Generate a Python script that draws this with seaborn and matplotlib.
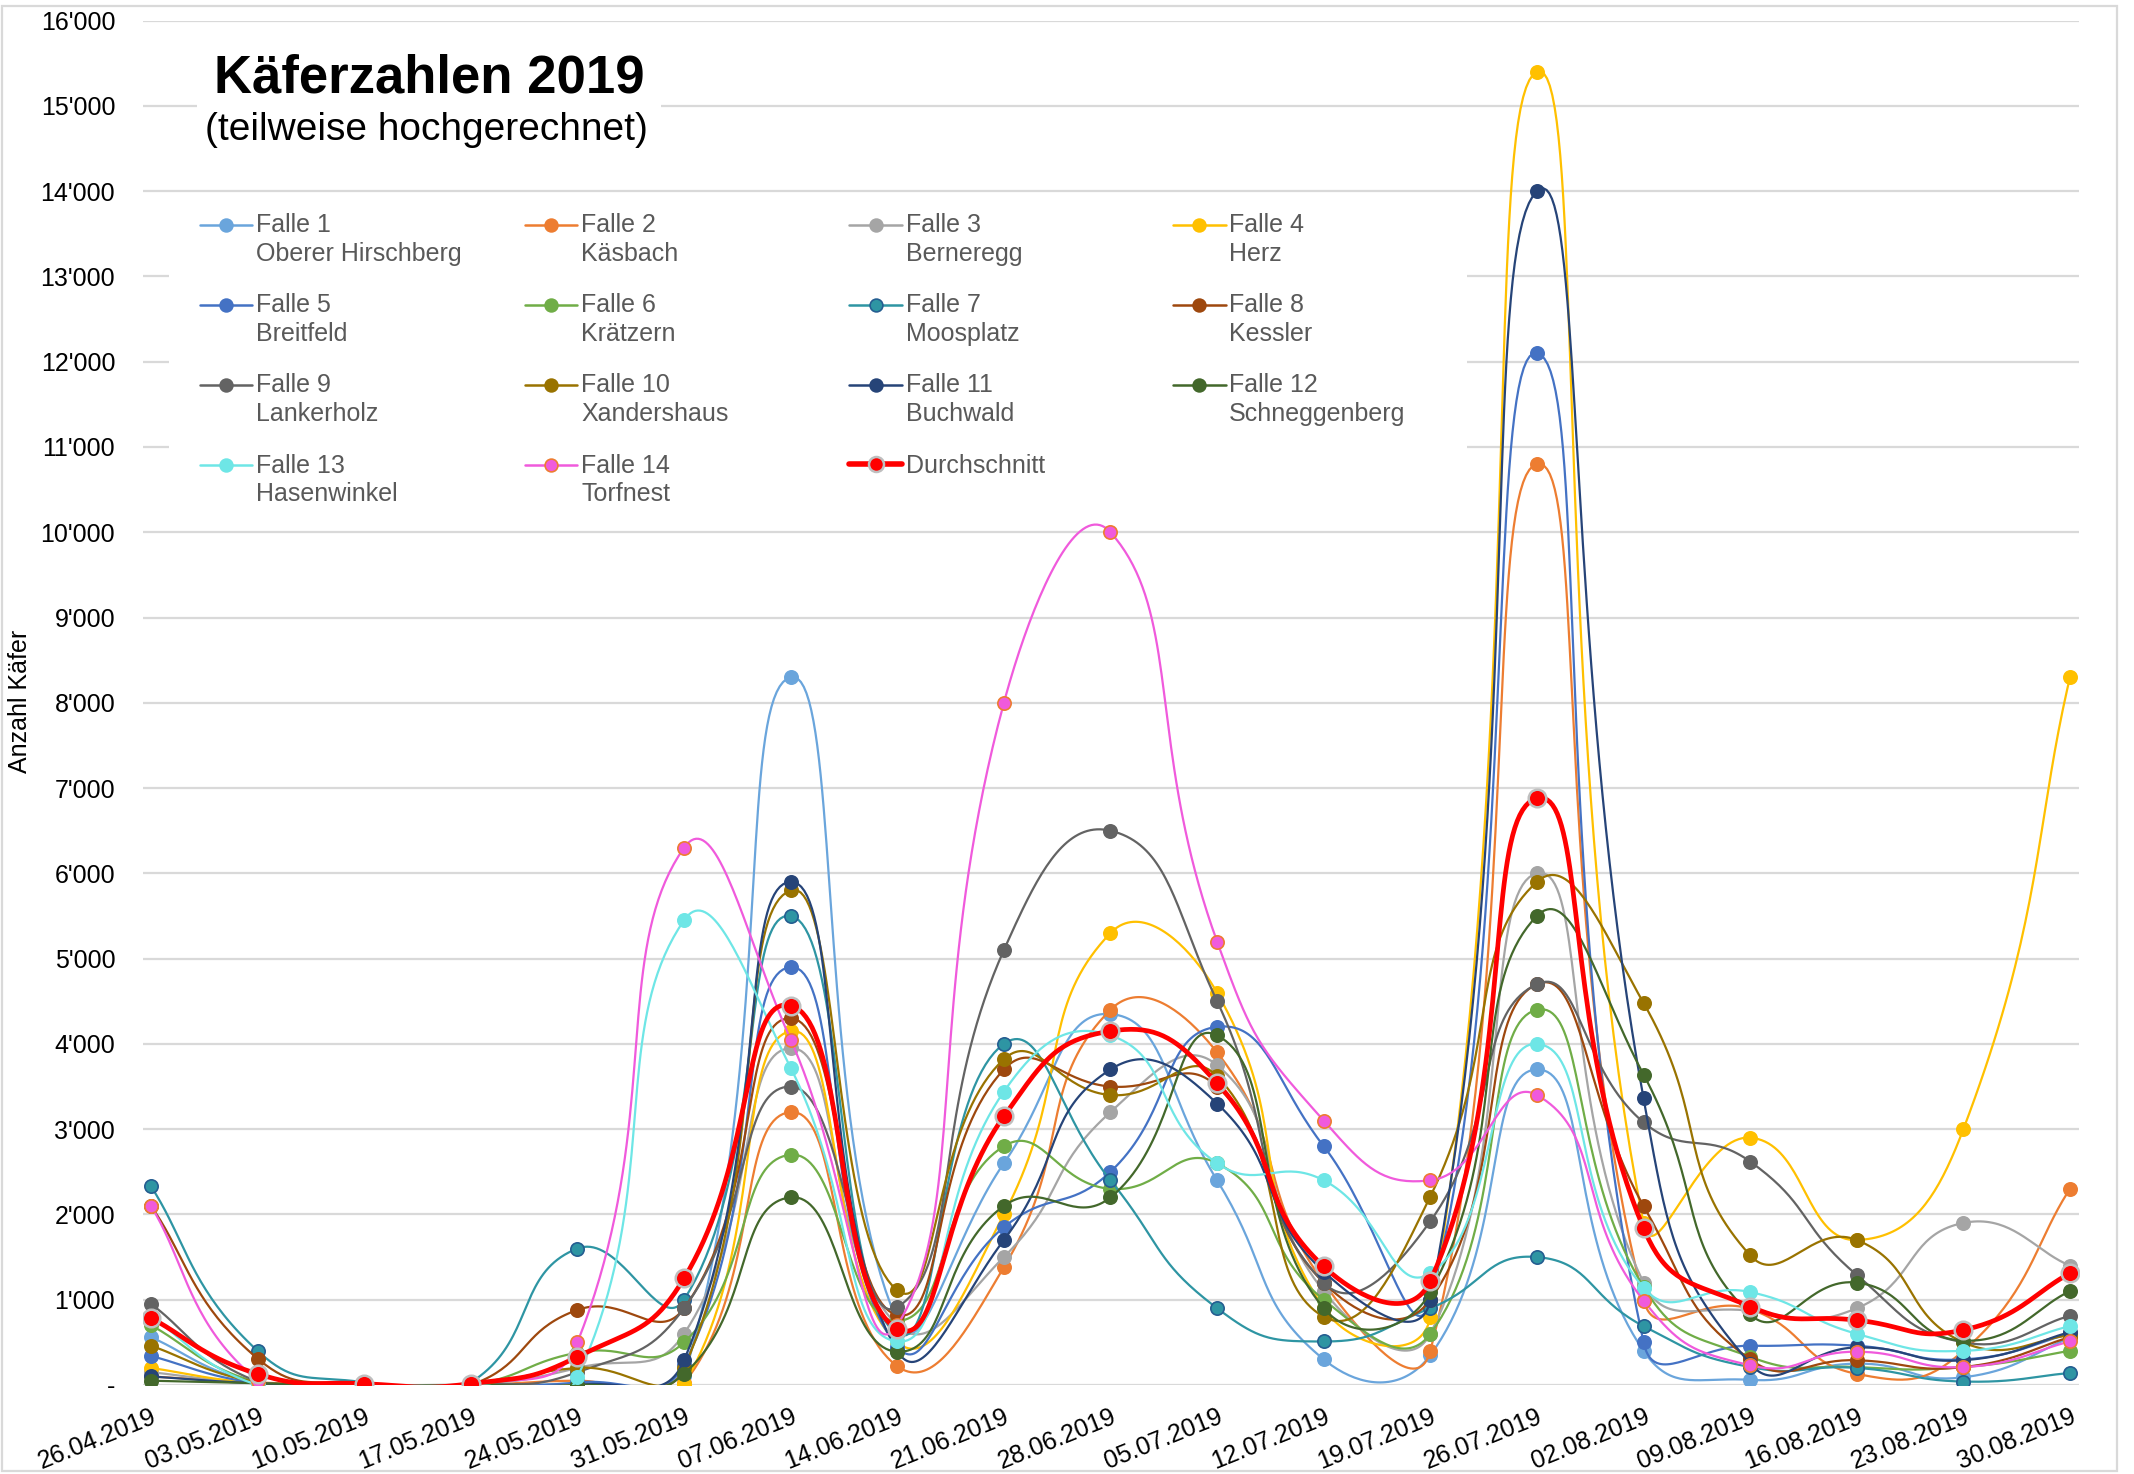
import numpy as np
import matplotlib
matplotlib.use("Agg")
import matplotlib.pyplot as plt
import seaborn as sns
from matplotlib.lines import Line2D
from matplotlib.patches import Rectangle
from matplotlib.ticker import FuncFormatter, MultipleLocator
from matplotlib.legend_handler import HandlerLine2D

# --- data ---
dates = ["26.04.2019", "03.05.2019", "10.05.2019", "17.05.2019", "24.05.2019",
         "31.05.2019", "07.06.2019", "14.06.2019", "21.06.2019", "28.06.2019",
         "05.07.2019", "12.07.2019", "19.07.2019", "26.07.2019", "02.08.2019",
         "09.08.2019", "16.08.2019", "23.08.2019", "30.08.2019"]

falle_1 = [560, 20, 0, 0, 20, 100, 8300, 750, 2600, 4350, 2400, 300, 350, 3700, 400, 60, 250, 90, 550]
falle_2 = [100, 30, 0, 0, 50, 20, 3200, 220, 1380, 4400, 3900, 1200, 400, 10800, 1000, 890, 130, 400, 2300]
falle_3 = [150, 20, 0, 0, 200, 600, 3950, 700, 1500, 3200, 3750, 1100, 600, 6000, 1200, 870, 900, 1900, 1400]
falle_4 = [200, 20, 0, 0, 0, 10, 4150, 500, 2000, 5300, 4600, 900, 800, 15400, 1900, 2900, 1700, 3000, 8300]
falle_5 = [340, 20, 0, 0, 30, 240, 4900, 450, 1850, 2500, 4200, 2800, 1000, 12100, 500, 460, 460, 300, 600]
falle_6 = [700, 30, 0, 0, 380, 500, 2700, 750, 2800, 2300, 2600, 1000, 600, 4400, 1150, 330, 210, 210, 400]
falle_7 = [2330, 400, 30, 30, 1600, 1000, 5500, 600, 4000, 2400, 900, 510, 900, 1500, 690, 210, 200, 40, 140]
falle_8 = [2100, 310, 0, 0, 880, 900, 4300, 820, 3700, 3500, 3500, 1200, 1000, 4700, 2100, 300, 290, 210, 560]
falle_9 = [950, 40, 0, 0, 150, 900, 3500, 910, 5100, 6500, 4500, 1200, 1920, 4700, 3080, 2620, 1290, 500, 810]
falle_10 = [460, 30, 0, 0, 200, 200, 5800, 1110, 3820, 3400, 3620, 800, 2210, 5900, 4480, 1520, 1700, 500, 580]
falle_11 = [100, 20, 0, 0, 0, 290, 5900, 400, 1700, 3700, 3300, 1330, 1000, 14000, 3360, 250, 440, 290, 620]
falle_12 = [50, 20, 0, 0, 0, 130, 2200, 390, 2100, 2200, 4100, 900, 1090, 5500, 3640, 830, 1200, 520, 1100]
falle_13 = [800, 0, 0, 0, 90, 5450, 3720, 510, 3440, 4100, 2600, 2400, 1310, 4000, 1140, 1090, 600, 400, 690]
falle_14 = [2100, 50, 0, 0, 500, 6300, 4050, 700, 8000, 10000, 5200, 3100, 2400, 3400, 990, 230, 390, 210, 510]
durchschnitt = [785, 130, 15, 15, 330, 1250, 4450, 660, 3150, 4150, 3540, 1390, 1220, 6880, 1840, 920, 760, 645, 1310]

names = ["Falle 1\nOberer Hirschberg", "Falle 2\nKäsbach", "Falle 3\nBerneregg", "Falle 4\nHerz",
         "Falle 5\nBreitfeld", "Falle 6\nKrätzern", "Falle 7\nMoosplatz", "Falle 8\nKessler",
         "Falle 9\nLankerholz", "Falle 10\nXandershaus", "Falle 11\nBuchwald", "Falle 12\nSchneggenberg",
         "Falle 13\nHasenwinkel", "Falle 14\nTorfnest"]
series = [falle_1, falle_2, falle_3, falle_4, falle_5, falle_6, falle_7,
          falle_8, falle_9, falle_10, falle_11, falle_12, falle_13, falle_14]
colors = ["#6AA5DC", "#ED7D31", "#A5A5A5", "#FFC000", "#4472C4", "#70AD47", "#2E95A3",
          "#9E480E", "#636363", "#997300", "#264478", "#43682B", "#6EE6E6", "#F05ADC"]
edges = list(colors)
edges[6] = "#255E91"
edges[13] = "#ED7D31"

# pixel size of one category step and of one count on the y axis (for the smoothing)
XPX, YPX = 106.6, 0.0853


def smooth(values, k=0.5, steps=40):
    # excel-like smoothed line: bezier segments, control arms scaled by segment length
    px = np.arange(len(values)) * XPX
    py = np.asarray(values, float) * YPX
    P = np.column_stack([px, py])
    n = len(P)
    d = np.hypot(*np.diff(P, axis=0).T)
    T = np.zeros_like(P)
    T[1:-1] = P[2:] - P[:-2]
    T[0] = P[1] - P[0]
    T[-1] = P[-1] - P[-2]
    t = np.linspace(0, 1, steps, endpoint=False)[:, None]
    out = []
    for i in range(n - 1):
        r1 = 0.667 if i == 0 else d[i] / (d[i - 1] + d[i])
        r2 = 0.667 if i == n - 2 else d[i] / (d[i] + d[i + 1])
        c1 = P[i] + T[i] * k * r1
        c2 = P[i + 1] - T[i + 1] * k * r2
        seg = ((1 - t) ** 3 * P[i] + 3 * (1 - t) ** 2 * t * c1
               + 3 * (1 - t) * t ** 2 * c2 + t ** 3 * P[i + 1])
        out.append(seg)
    out.append(P[-1:])
    out = np.vstack(out)
    return out[:, 0] / XPX, out[:, 1] / YPX


class FirstLineHandler(HandlerLine2D):
    # put the legend symbol next to the first line of a two-line label
    def __init__(self, shift, **kw):
        super().__init__(**kw)
        self.shift = shift

    def create_artists(self, legend, orig_handle, xdescent, ydescent, width, height, fontsize, trans):
        arts = super().create_artists(legend, orig_handle, xdescent, ydescent, width, height,
                                      fontsize, trans)
        for a in arts:
            a.set_ydata(np.asarray(a.get_ydata(), float) + self.shift * fontsize)
        return arts


sns.set_theme(style="white")
plt.rcParams["font.family"] = ["Liberation Sans", "DejaVu Sans"]

fig = plt.figure(figsize=(10.67, 7.37), dpi=200)
ax = fig.add_axes([0.067, 0.0604, 0.9072, 0.9256])

pos = np.arange(len(dates))
for i, (vals, c, e) in enumerate(zip(series, colors, edges)):
    xs, ys = smooth(vals)
    sns.lineplot(x=xs, y=ys, color=c, linewidth=0.8, sort=False, estimator=None,
                 ax=ax, legend=False, zorder=3 + 2 * i)
    sns.scatterplot(x=pos, y=vals, color=c, edgecolor=e, linewidth=0.6, s=23,
                    ax=ax, legend=False, zorder=4 + 2 * i)

xs, ys = smooth(durchschnitt)
sns.lineplot(x=xs, y=ys, color="#FF0000", linewidth=1.7, sort=False, estimator=None,
             ax=ax, legend=False, zorder=40)
sns.scatterplot(x=pos, y=durchschnitt, color="#FF0000", edgecolor="#BFBFBF", linewidth=0.9,
                s=40, ax=ax, legend=False, zorder=41)

ax.set_xlim(-0.075, 18.084)
ax.set_ylim(0, 16000)
ax.yaxis.set_major_locator(MultipleLocator(1000))
ax.yaxis.set_major_formatter(FuncFormatter(lambda v, p: "-" if v == 0 else f"{int(v):,}".replace(",", "'")))
ax.set_xticks(pos)
ax.set_xticklabels(dates, rotation=22, ha="right", rotation_mode="anchor")
ax.tick_params(axis="both", length=0, labelsize=9, colors="black")
ax.tick_params(axis="x", pad=7)
ax.tick_params(axis="y", pad=10)
ax.grid(axis="y", color="#D9D9D9", linewidth=0.8)
ax.set_axisbelow(True)
for s in ax.spines.values():
    s.set_visible(False)
ax.set_xlabel("")
ax.set_ylabel("")

fig.text(0.0096, 0.5245, "Anzahl Käfer", rotation=90, ha="center", va="center", fontsize=9,
         color="black")

# outer chart border
fig.patches.append(Rectangle((0.001, 0.002), 0.991, 0.994, transform=fig.transFigure,
                             fill=False, edgecolor="#D9D9D9", linewidth=0.8, zorder=0))

# title block
fig.patches.append(Rectangle((0.0923, 0.8915), 0.2175, 0.078, transform=fig.transFigure,
                             facecolor="white", edgecolor="none", zorder=1))
fig.text(0.201, 0.947, "Käferzahlen 2019", ha="center", va="center", fontsize=19,
         fontweight="bold", color="black", zorder=3)
fig.text(0.200, 0.912, "(teilweise hochgerechnet)", ha="center", va="center", fontsize=14,
         color="black", zorder=3)

# legend block: four columns laid out row by row like the reference
fig.patches.append(Rectangle((0.0792, 0.649), 0.6083, 0.217, transform=fig.transFigure,
                             facecolor="white", edgecolor="none", zorder=1))


def handle(c, e, lw=0.9, ms=4.6, mew=0.6):
    return Line2D([], [], color=c, linewidth=lw, marker="o", markersize=ms,
                  markerfacecolor=c, markeredgecolor=e, markeredgewidth=mew)


entries = [(handle(c, e), n) for c, e, n in zip(colors, edges, names)]
entries.append((handle("#FF0000", "#BFBFBF", lw=2.0, ms=5.4, mew=0.9), "Durchschnitt"))
shifted = {h: FirstLineHandler(0.62) for h, n in entries if "\n" in n}
col_x = [0.0937, 0.246, 0.398, 0.5497]
for k in range(4):
    items = entries[k::4]
    leg = fig.legend([h for h, _ in items], [n for _, n in items], loc="upper left",
                     bbox_to_anchor=(col_x[k], 0.8555), frameon=False, fontsize=9,
                     handlelength=2.1, handletextpad=0.15, borderpad=0, borderaxespad=0,
                     labelspacing=1.1, labelcolor="#595959", handler_map=shifted)
    for t in leg.get_texts():
        t.set_linespacing(1.25)
    leg.set_zorder(5)

fig.savefig("out.png", dpi=200)
